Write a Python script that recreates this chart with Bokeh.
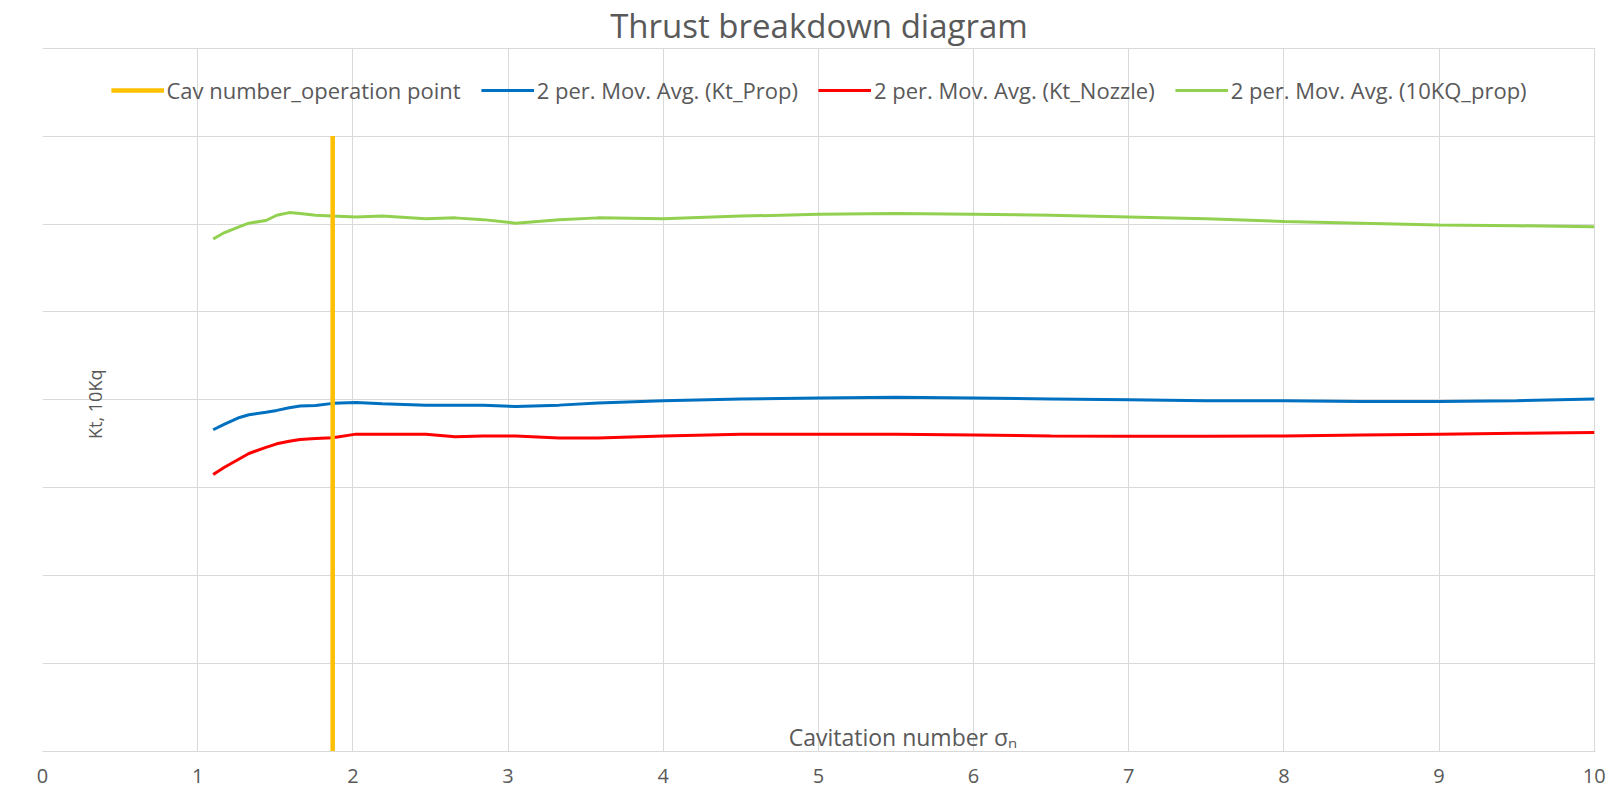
from bokeh.plotting import figure
from bokeh.models import Range1d, FixedTicker, Label, Legend, LegendItem
from bokeh.embed import file_html
from bokeh.resources import INLINE

# ---- data ----
sigma = [1.10, 1.17, 1.27, 1.33, 1.44, 1.51, 1.59, 1.66, 1.76, 1.87, 2.02, 2.19,
         2.47, 2.66, 2.84, 3.05, 3.33, 3.58, 4.0, 4.5, 5.0, 5.5, 6.0, 6.5, 7.0,
         7.5, 8.0, 8.5, 9.0, 9.5, 10.0]
kq10_prop = [0.583, 0.590, 0.597, 0.601, 0.604, 0.610, 0.613, 0.612, 0.610, 0.609,
             0.608, 0.609, 0.606, 0.607, 0.605, 0.601, 0.605, 0.607, 0.606, 0.609,
             0.611, 0.612, 0.611, 0.610, 0.608, 0.606, 0.603, 0.601, 0.599, 0.598, 0.597]
kt_prop = [0.366, 0.372, 0.380, 0.383, 0.386, 0.388, 0.391, 0.393, 0.3935, 0.396,
           0.397, 0.3955, 0.394, 0.394, 0.394, 0.3925, 0.394, 0.3965, 0.399, 0.401,
           0.402, 0.403, 0.402, 0.401, 0.400, 0.399, 0.399, 0.398, 0.398, 0.399, 0.401]
kt_nozzle = [0.315, 0.323, 0.333, 0.339, 0.346, 0.350, 0.353, 0.355, 0.356, 0.357,
             0.361, 0.361, 0.361, 0.358, 0.359, 0.359, 0.3565, 0.3565, 0.359, 0.361,
             0.361, 0.361, 0.360, 0.359, 0.3585, 0.3585, 0.359, 0.360, 0.361, 0.362, 0.363]
op_x = [1.87, 1.87]
op_y = [0.0, 0.7]

x_ticks = [0, 1, 2, 3, 4, 5, 6, 7, 8, 9, 10]
x_grid = [1, 2, 3, 4, 5, 6, 7, 8, 9, 10]
y_grid = [0.1, 0.2, 0.3, 0.4, 0.5, 0.6, 0.7, 0.8]

labels = ["Cav number_operation point", "2 per. Mov. Avg. (Kt_Prop)",
          "2 per. Mov. Avg. (Kt_Nozzle)", "2 per. Mov. Avg. (10KQ_prop)"]
title_text = "Thrust breakdown diagram"
xlabel = "Cavitation number σₙ"
ylabel = "Kt, 10Kq"

FONT = "Open Sans"
TXT = "#595959"
GRID = "#d9d9d9"

p = figure(width=1610, height=789, output_backend="svg", toolbar_location=None,
           x_range=Range1d(0, 10.008), y_range=Range1d(0, 0.8008),
           min_border_left=42, min_border_right=15, min_border_top=44, min_border_bottom=38)
p.outline_line_color = None
p.background_fill_color = "white"
p.border_fill_color = "white"

p.title.text = title_text
p.title.align = "center"
p.title.text_font = FONT
p.title.text_font_size = "33px"
p.title.text_font_style = "normal"
p.title.text_color = TXT
p.title.standoff = 0
p.title.offset = 0

p.xaxis.ticker = FixedTicker(ticks=x_ticks)
p.xaxis.axis_line_color = GRID
p.xaxis.major_tick_line_color = None
p.xaxis.minor_tick_line_color = None
p.xaxis.major_label_text_font = FONT
p.xaxis.major_label_text_font_size = "20px"
p.xaxis.major_label_text_color = TXT
p.xaxis.major_label_standoff = 11
p.yaxis.visible = False

p.xgrid.ticker = FixedTicker(ticks=x_grid)
p.ygrid.ticker = FixedTicker(ticks=y_grid)
p.xgrid.grid_line_color = GRID
p.ygrid.grid_line_color = GRID

r_blue = p.line(sigma, kt_prop, line_color="#0070c0", line_width=3)
r_red = p.line(sigma, kt_nozzle, line_color="#ff0000", line_width=3)
r_green = p.line(sigma, kq10_prop, line_color="#92d050", line_width=3)
r_op = p.line(op_x, op_y, line_color="#ffc000", line_width=4.5)

legend = Legend(items=[LegendItem(label=labels[0], renderers=[r_op]),
                       LegendItem(label=labels[1], renderers=[r_blue]),
                       LegendItem(label=labels[2], renderers=[r_red]),
                       LegendItem(label=labels[3], renderers=[r_green])],
                orientation="horizontal", location="top_center",
                margin=28, padding=0, spacing=20, glyph_width=53, glyph_height=24,
                label_standoff=3, label_text_font=FONT, label_text_font_size="22px",
                label_text_color=TXT, background_fill_alpha=0, border_line_color=None)
p.add_layout(legend)

p.add_layout(Label(x=5.545, y=0.017, text=xlabel, text_align="center",
                   text_baseline="alphabetic", text_font=FONT, text_font_size="23px",
                   text_color=TXT))
p.add_layout(Label(x=0.341, y=0.395, text=ylabel, text_align="center",
                   text_baseline="middle", angle=1.5708, text_font=FONT,
                   text_font_size="18px", text_color=TXT))

open("out.html", "w").write(file_html(p, INLINE))
